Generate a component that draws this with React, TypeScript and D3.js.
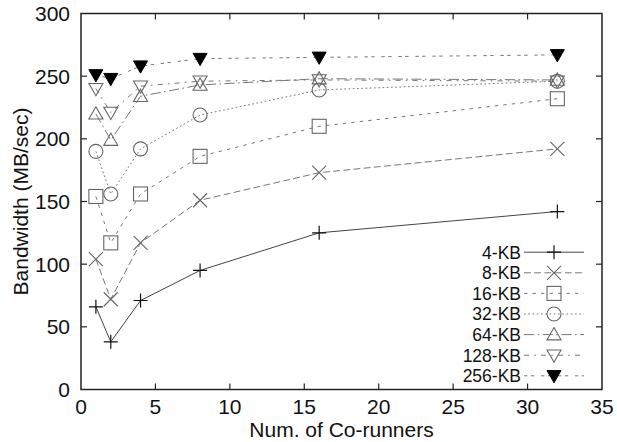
import React from "react";
import * as d3 from "d3";

const corunners = [1, 2, 4, 8, 16, 32];
const seriesNames = ["4-KB", "8-KB", "16-KB", "32-KB", "64-KB", "128-KB", "256-KB"];
const bw4 = [66, 38, 71, 95, 125, 142];
const bw8 = [104, 72, 117, 151, 173, 192];
const bw16 = [154, 117, 156, 186, 210, 232];
const bw32 = [190, 156, 192, 219, 239, 246];
const bw64 = [220, 199, 234, 243, 248, 247];
const bw128 = [240, 221, 242, 246, 247, 246];
const bw256 = [251, 248, 258, 264, 265, 267];
const seriesValues = [bw4, bw8, bw16, bw32, bw64, bw128, bw256];
const xTicks = [0, 5, 10, 15, 20, 25, 30, 35];
const yTicks = [0, 50, 100, 150, 200, 250, 300];

const dl = 1.7;
const dashes = [
  "",
  [4, 2].map((v) => v * dl).join(" "),
  [2, 3].map((v) => v * dl).join(" "),
  [1, 1.5].map((v) => v * dl).join(" "),
  [6, 2, 1, 2].map((v) => v * dl).join(" "),
  [3, 3, 1, 3].map((v) => v * dl).join(" "),
  [2, 2, 2, 4].map((v) => v * dl).join(" "),
];
const markers = ["plus", "cross", "square", "circle", "triangle", "triangleDown", "triangleDownFilled"];

const W = 617;
const H = 442;
const left = 81;
const right = 602;
const top = 13.5;
const bottom = 389.5;
const font = "'Liberation Sans', Arial, Helvetica, sans-serif";
const fs = 21;
const legendFs = 17.5;

function Marker({ type, x, y }: { type: string; x: number; y: number }) {
  const s = 7;
  const stroke = type === "plus" ? "#111" : "#666";
  switch (type) {
    case "plus":
      return <path d={`M${x - s},${y}H${x + s}M${x},${y - s}V${y + s}`} stroke={stroke} strokeWidth={1.2} fill="none" />;
    case "cross":
      return <path d={`M${x - s},${y - s}L${x + s},${y + s}M${x - s},${y + s}L${x + s},${y - s}`} stroke={stroke} strokeWidth={1.1} fill="none" />;
    case "square":
      return <rect x={x - s} y={y - s} width={2 * s} height={2 * s} stroke={stroke} strokeWidth={1.1} fill="none" />;
    case "circle":
      return <circle cx={x} cy={y} r={s} stroke={stroke} strokeWidth={1.1} fill="none" />;
    case "triangle":
      return <path d={`M${x},${y - s}L${x + s},${y + s * 0.75}L${x - s},${y + s * 0.75}Z`} stroke={stroke} strokeWidth={1.1} fill="none" />;
    case "triangleDown":
      return <path d={`M${x},${y + s}L${x + s},${y - s * 0.75}L${x - s},${y - s * 0.75}Z`} stroke={stroke} strokeWidth={1.1} fill="none" />;
    default:
      return <path d={`M${x},${y + s}L${x + s},${y - s * 0.75}L${x - s},${y - s * 0.75}Z`} stroke="#000" strokeWidth={1} fill="#000" />;
  }
}

export default function App() {
  const x = d3.scaleLinear().domain([0, 35]).range([left, right]);
  const y = d3.scaleLinear().domain([0, 300]).range([bottom, top]);
  const line = d3
    .line<number>()
    .x((_, i) => x(corunners[i]))
    .y((d) => y(d));
  const tickLen = 6;
  const legendX = 521;
  const legendDy = 20.6;
  const legendY0 = 314 - 3 * legendDy;

  return (
    <svg width={W} height={H} style={{ position: "absolute", left: 0, top: 0, background: "#fff" }}>
      <rect x={0} y={0} width={W} height={H} fill="#fff" />
      {seriesValues.map((vals, si) => (
        <path
          key={"l" + si}
          d={line(vals) || ""}
          fill="none"
          stroke={si === 0 ? "#444" : "#777"}
          strokeWidth={1}
          strokeDasharray={dashes[si]}
        />
      ))}
      {seriesValues.map((vals, si) =>
        vals.map((v, i) => <Marker key={`m${si}-${i}`} type={markers[si]} x={x(corunners[i])} y={y(v)} />)
      )}
      {seriesNames.map((name, si) => {
        const ly = legendY0 + si * legendDy;
        return (
          <g key={"lg" + si}>
            <line x1={524} x2={584} y1={ly} y2={ly} stroke={si === 0 ? "#444" : "#777"} strokeWidth={1} strokeDasharray={dashes[si]} />
            <Marker type={markers[si]} x={554} y={ly} />
            <text x={legendX} y={ly} dy="0.36em" textAnchor="end" fontFamily={font} fontSize={legendFs} fill="#111">
              {name}
            </text>
          </g>
        );
      })}
      <rect x={left} y={top} width={right - left} height={bottom - top} fill="none" stroke="#222" strokeWidth={1.5} />
      {xTicks.map((t) => (
        <g key={"xt" + t}>
          {t > 0 && t < 35 && (
            <>
              <line x1={x(t)} x2={x(t)} y1={bottom} y2={bottom - tickLen} stroke="#222" strokeWidth={1.2} />
              <line x1={x(t)} x2={x(t)} y1={top} y2={top + tickLen} stroke="#222" strokeWidth={1.2} />
            </>
          )}
          <text x={x(t)} y={bottom + 24} textAnchor="middle" fontFamily={font} fontSize={fs} fill="#111">
            {t}
          </text>
        </g>
      ))}
      {yTicks.map((t) => (
        <g key={"yt" + t}>
          {t > 0 && t < 300 && (
            <>
              <line x1={left} x2={left + tickLen} y1={y(t)} y2={y(t)} stroke="#222" strokeWidth={1.2} />
              <line x1={right} x2={right - tickLen} y1={y(t)} y2={y(t)} stroke="#222" strokeWidth={1.2} />
            </>
          )}
          <text x={70} y={y(t)} dy="0.36em" textAnchor="end" fontFamily={font} fontSize={fs} fill="#111">
            {t}
          </text>
        </g>
      ))}
      <text x={(left + right) / 2} y={437} textAnchor="middle" fontFamily={font} fontSize={fs} fill="#111">
        Num. of Co-runners
      </text>
      <text
        transform={`translate(20,${(top + bottom) / 2}) rotate(-90)`}
        textAnchor="middle"
        dy="0.36em"
        fontFamily={font}
        fontSize={fs}
        fill="#111"
      >
        Bandwidth (MB/sec)
      </text>
    </svg>
  );
}
